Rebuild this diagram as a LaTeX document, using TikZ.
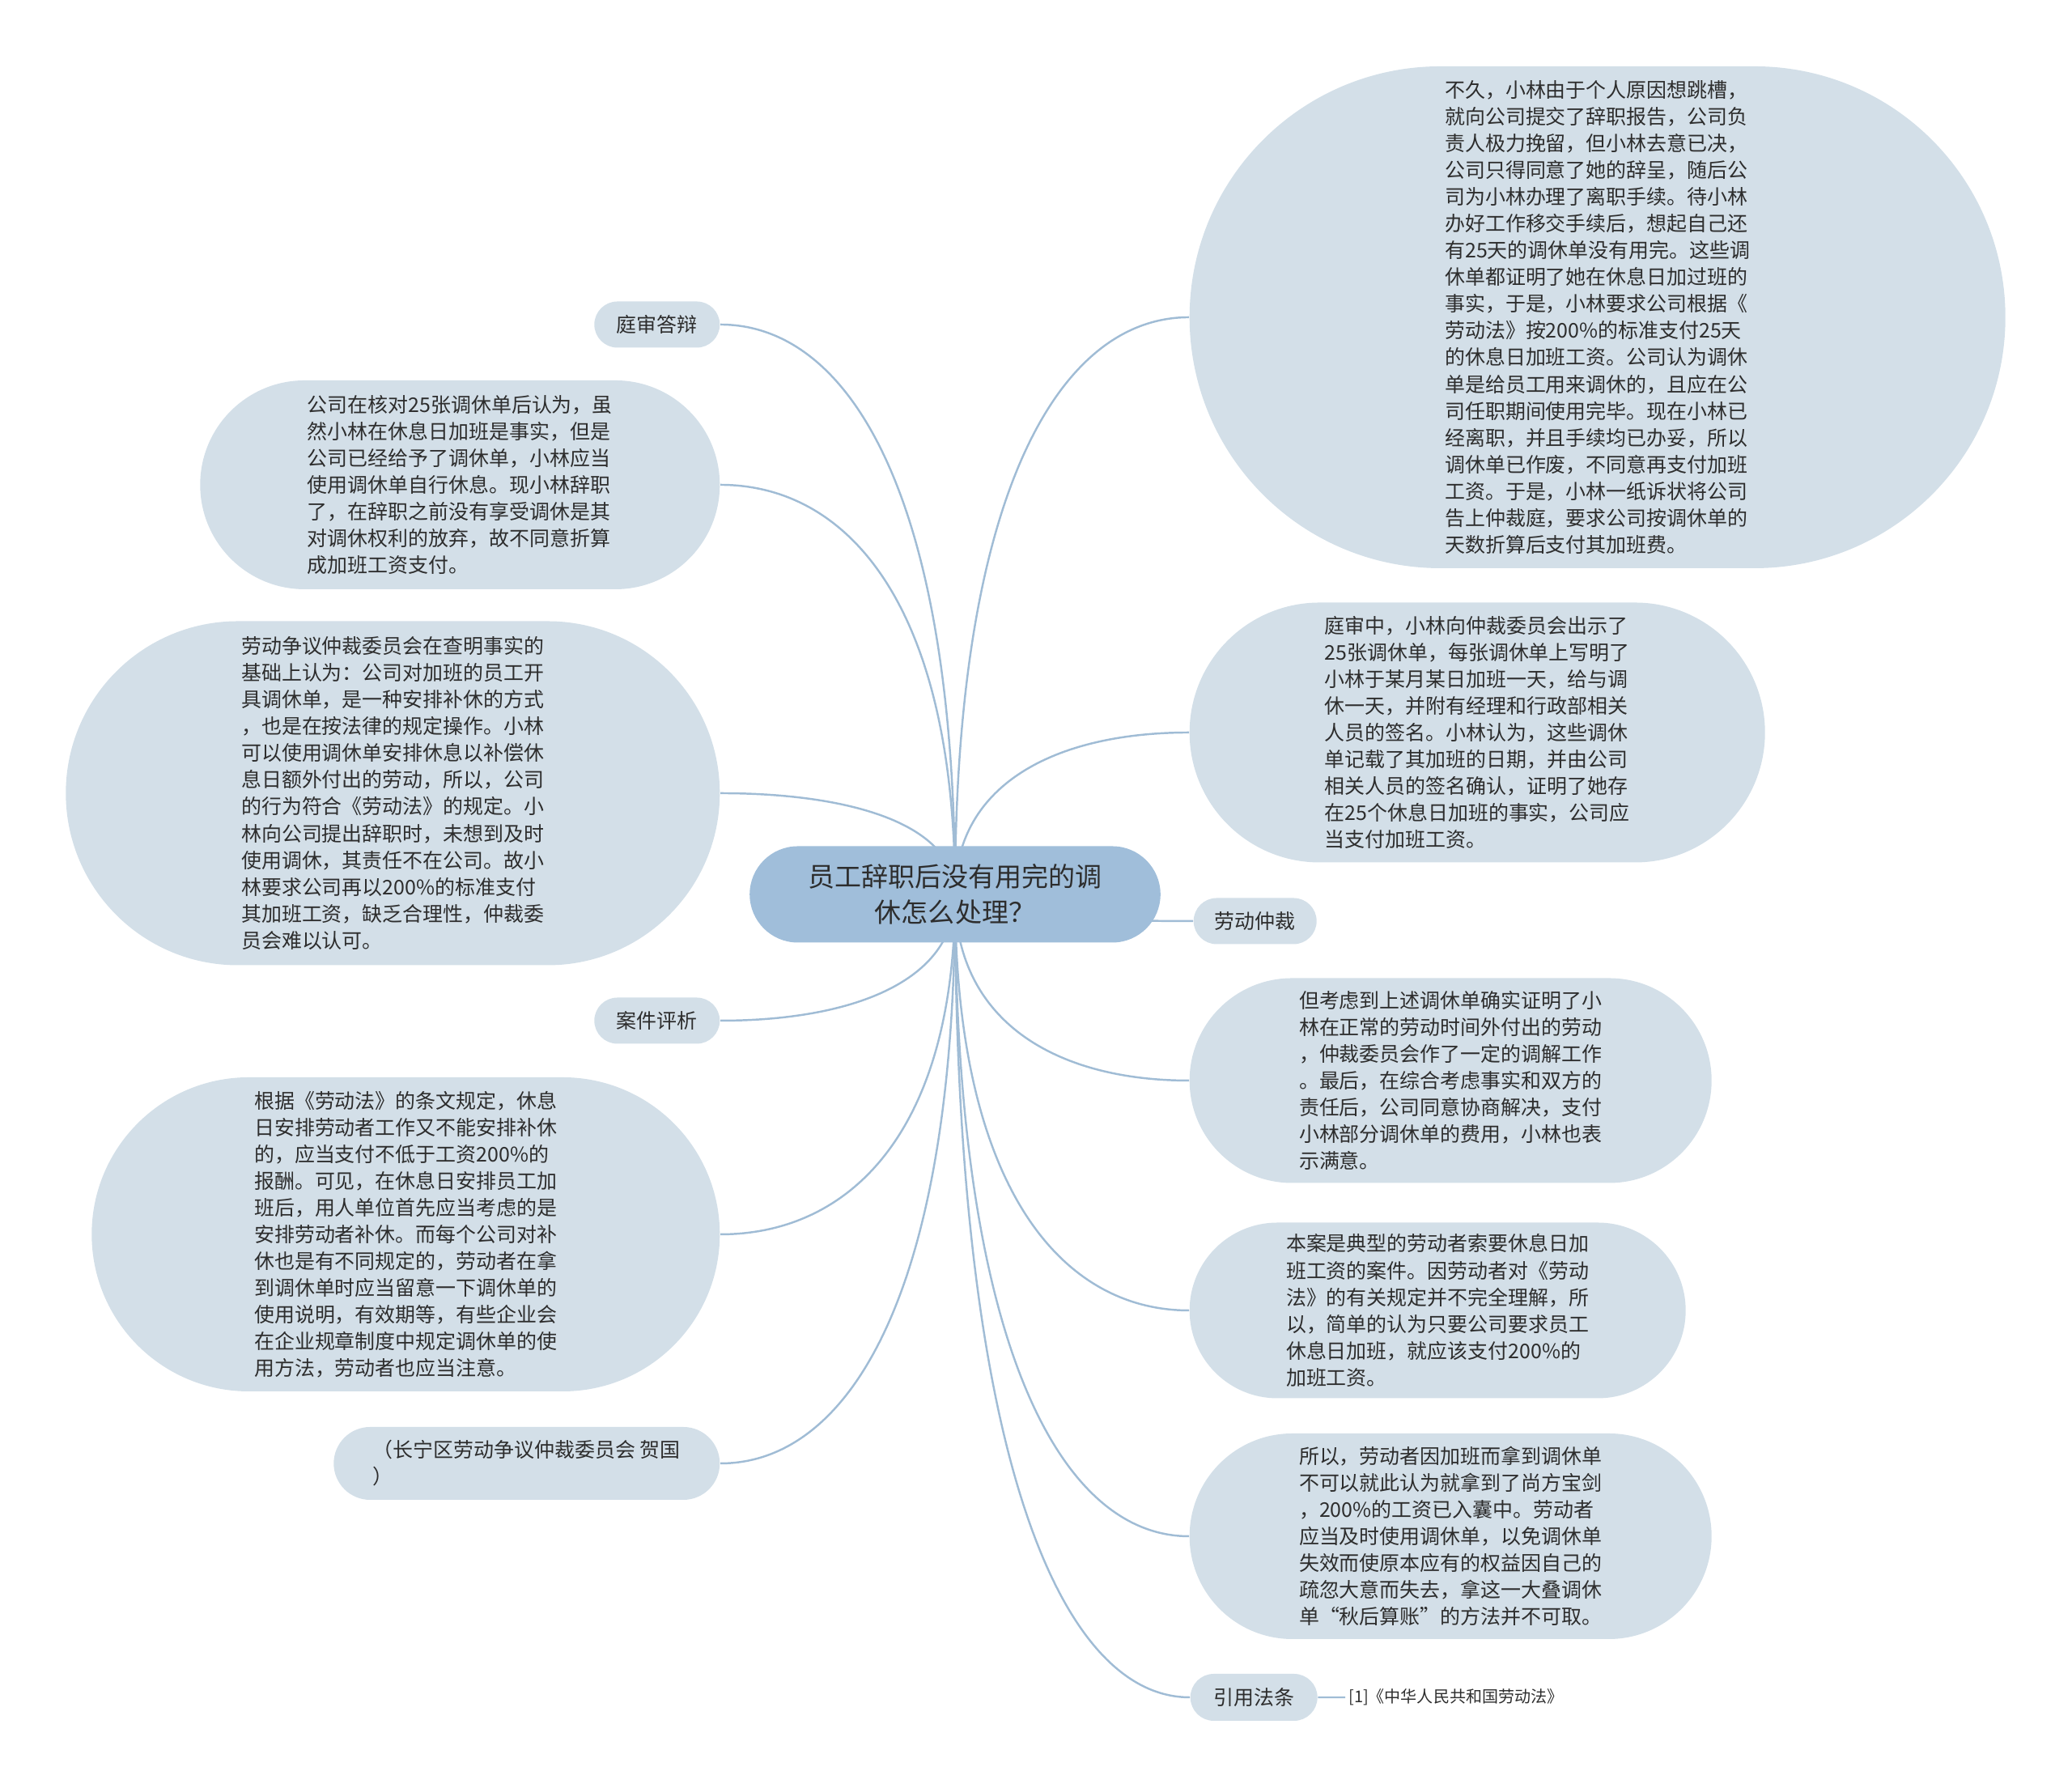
\documentclass[tikz,border=0pt]{standalone}
\usepackage{fontspec}
\setmainfont{Noto Sans CJK SC}
\usetikzlibrary{shapes.misc,calc,backgrounds}

\definecolor{rootblue}{RGB}{160,190,218}
\definecolor{leafblue}{RGB}{211,223,232}
\definecolor{linkblue}{RGB}{160,188,213}
\definecolor{inkgray}{RGB}{45,45,45}

\begin{document}
\begin{tikzpicture}[
    root/.style={rounded rectangle, fill=rootblue, text=inkgray, align=center, font=\fontsize{9.4}{12.5}\selectfont, minimum width=5.31cm, minimum height=1.19cm},
    leaf/.style={rounded rectangle, fill=leafblue, text=inkgray, align=left, inner sep=0pt, font=\fontsize{7.1}{9.4}\selectfont},
    tag/.style={leaf, minimum width=1.55cm, minimum height=0.57cm},
    link/.style={draw=linkblue, line width=0.7pt},
    note/.style={text=inkgray, inner sep=1pt, font=\fontsize{5.7}{7}\selectfont},
]

\useasboundingbox (0,0) rectangle (25.6,22.09);

% Central topic
\node[root] (root) at (11.80, 11.04) {员工辞职后没有用完的调\\休怎么处理？};

% Left branches
\node[tag, anchor=east] (s1) at (8.90, 18.08) {庭审答辩};
\node[leaf, anchor=east, minimum width=6.42cm, minimum height=2.58cm] (l1) at (8.90, 16.10) {%
公司在核对25张调休单后认为，虽\\
然小林在休息日加班是事实，但是\\
公司已经给予了调休单，小林应当\\
使用调休单自行休息。现小林辞职\\
了，在辞职之前没有享受调休是其\\
对调休权利的放弃，故不同意折算\\
成加班工资支付。};
\node[leaf, anchor=east, minimum width=8.08cm, minimum height=4.25cm] (l2) at (8.90, 12.29) {%
劳动争议仲裁委员会在查明事实的\\
基础上认为：公司对加班的员工开\\
具调休单，是一种安排补休的方式\\
，也是在按法律的规定操作。小林\\
可以使用调休单安排休息以补偿休\\
息日额外付出的劳动，所以，公司\\
的行为符合《劳动法》的规定。小\\
林向公司提出辞职时，未想到及时\\
使用调休，其责任不在公司。故小\\
林要求公司再以200\%的标准支付\\
其加班工资，缺乏合理性，仲裁委\\
员会难以认可。};
\node[tag, anchor=east] (s2) at (8.90, 9.48) {案件评析};
\node[leaf, anchor=east, minimum width=7.76cm, minimum height=3.88cm] (l3) at (8.90, 6.84) {%
根据《劳动法》的条文规定，休息\\
日安排劳动者工作又不能安排补休\\
的，应当支付不低于工资200\%的\\
报酬。可见，在休息日安排员工加\\
班后，用人单位首先应当考虑的是\\
安排劳动者补休。而每个公司对补\\
休也是有不同规定的，劳动者在拿\\
到调休单时应当留意一下调休单的\\
使用说明，有效期等，有些企业会\\
在企业规章制度中规定调休单的使\\
用方法，劳动者也应当注意。};
\node[leaf, anchor=east, minimum width=4.77cm, minimum height=0.90cm] (l4) at (8.90, 4.01) {%
（长宁区劳动争议仲裁委员会 贺国\\
）};

% Right branches
\node[leaf, anchor=west, minimum width=10.08cm, minimum height=6.20cm] (r1) at (14.69, 18.17) {%
不久，小林由于个人原因想跳槽，\\
就向公司提交了辞职报告，公司负\\
责人极力挽留，但小林去意已决，\\
公司只得同意了她的辞呈，随后公\\
司为小林办理了离职手续。待小林\\
办好工作移交手续后，想起自己还\\
有25天的调休单没有用完。这些调\\
休单都证明了她在休息日加过班的\\
事实，于是，小林要求公司根据《\\
劳动法》按200\%的标准支付25天\\
的休息日加班工资。公司认为调休\\
单是给员工用来调休的，且应在公\\
司任职期间使用完毕。现在小林已\\
经离职，并且手续均已办妥，所以\\
调休单已作废，不同意再支付加班\\
工资。于是，小林一纸诉状将公司\\
告上仲裁庭，要求公司按调休单的\\
天数折算后支付其加班费。};
\node[leaf, anchor=west, minimum width=7.11cm, minimum height=3.21cm] (r2) at (14.69, 13.04) {%
庭审中，小林向仲裁委员会出示了\\
25张调休单，每张调休单上写明了\\
小林于某月某日加班一天，给与调\\
休一天，并附有经理和行政部相关\\
人员的签名。小林认为，这些调休\\
单记载了其加班的日期，并由公司\\
相关人员的签名确认，证明了她存\\
在25个休息日加班的事实，公司应\\
当支付加班工资。};
\node[tag, anchor=west, minimum width=1.52cm] (s3) at (14.74, 10.71) {劳动仲裁};
\node[leaf, anchor=west, minimum width=6.45cm, minimum height=2.53cm] (r3) at (14.69, 8.74) {%
但考虑到上述调休单确实证明了小\\
林在正常的劳动时间外付出的劳动\\
，仲裁委员会作了一定的调解工作\\
。最后，在综合考虑事实和双方的\\
责任后，公司同意协商解决，支付\\
小林部分调休单的费用，小林也表\\
示满意。};
\node[leaf, anchor=west, minimum width=6.13cm, minimum height=2.17cm] (r4) at (14.69, 5.90) {%
本案是典型的劳动者索要休息日加\\
班工资的案件。因劳动者对《劳动\\
法》的有关规定并不完全理解，所\\
以，简单的认为只要公司要求员工\\
休息日加班，就应该支付200\%的\\
加班工资。};
\node[leaf, anchor=west, minimum width=6.45cm, minimum height=2.54cm] (r5) at (14.69, 3.11) {%
所以，劳动者因加班而拿到调休单\\
不可以就此认为就拿到了尚方宝剑\\
，200\%的工资已入囊中。劳动者\\
应当及时使用调休单，以免调休单\\
失效而使原本应有的权益因自己的\\
疏忽大意而失去，拿这一大叠调休\\
单“秋后算账”的方法并不可取。};
\node[tag, anchor=west, minimum width=1.57cm, minimum height=0.58cm] (s4) at (14.70, 1.12) {引用法条};
\node[note, anchor=west] (law) at (16.62, 1.12) {[1]《中华人民共和国劳动法》};

% Connectors
\begin{scope}[on background layer]
\foreach \n in {s1,l1,l2,s2,l3,l4}
  \draw[link] (root.center) .. controls ($(root.center)!0.7!(root.center |- \n.east)$) and ($(\n.east)!0.55!(\n.east -| root.center)$) .. (\n.east);
\foreach \n in {r1,r2,s3,r3,r4,r5,s4}
  \draw[link] (root.center) .. controls ($(root.center)!0.7!(root.center |- \n.west)$) and ($(\n.west)!0.55!(\n.west -| root.center)$) .. (\n.west);
\end{scope}
\draw[link] (s4) -- (law);

\end{tikzpicture}
\end{document}
